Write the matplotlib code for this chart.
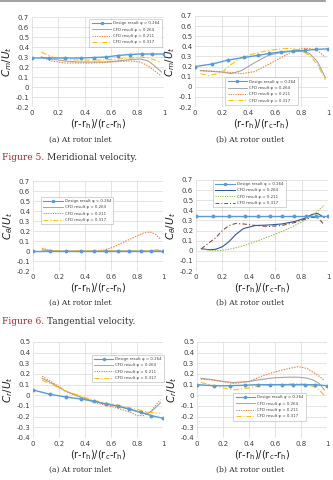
import matplotlib
matplotlib.use("Agg")
import matplotlib.pyplot as plt
from matplotlib.lines import Line2D

W, H = 333, 480

# design points (same radial stations in every panel)
x_des = [0, 0.13, 0.25, 0.37, 0.47, 0.56, 0.65, 0.74, 0.83, 0.91, 1.0]

# Figure 5 - meridional velocity
cm_in_des = [0.29, 0.29, 0.29, 0.29, 0.295, 0.30, 0.315, 0.325, 0.33, 0.33, 0.33]
cm_in_x = [0.07, 0.15, 0.25, 0.35, 0.45, 0.55, 0.65, 0.75, 0.82, 0.88, 0.93, 0.98]
cm_in_264 = [0.30, 0.28, 0.26, 0.25, 0.25, 0.25, 0.26, 0.275, 0.28, 0.26, 0.21, 0.15]
cm_in_211 = [0.30, 0.26, 0.24, 0.24, 0.24, 0.245, 0.255, 0.26, 0.25, 0.21, 0.16, 0.11]
cm_in_317 = [0.35, 0.30, 0.28, 0.27, 0.27, 0.27, 0.28, 0.29, 0.30, 0.29, 0.27, 0.24]

cm_out_x = [0.04, 0.1, 0.2, 0.27, 0.35, 0.45, 0.55, 0.65, 0.72, 0.8, 0.86, 0.92, 0.98]
cm_out_des = [0.20, 0.225, 0.265, 0.29, 0.31, 0.33, 0.345, 0.355, 0.36, 0.37, 0.375]
cm_out_264 = [0.16, 0.155, 0.145, 0.13, 0.16, 0.24, 0.31, 0.34, 0.35, 0.35, 0.33, 0.25, 0.09]
cm_out_211 = [0.16, 0.155, 0.15, 0.14, 0.13, 0.15, 0.22, 0.29, 0.34, 0.38, 0.38, 0.36, 0.29]
cm_out_317 = [0.13, 0.11, 0.14, 0.22, 0.29, 0.33, 0.36, 0.375, 0.38, 0.36, 0.31, 0.22, 0.07]

# Figure 6 - tangential velocity
ct_in_x = [0.07, 0.15, 0.25, 0.35, 0.45, 0.55, 0.62, 0.7, 0.78, 0.85, 0.9, 0.94, 0.98]
ct_in_des = [0, 0, 0, 0, 0, 0, 0, 0, 0, 0, 0]
ct_in_264 = [0.01, 0, -0.003, -0.003, -0.003, 0, 0, 0, 0, 0, 0, 0.002, 0.005]
ct_in_211 = [0.025, 0.003, 0, 0, 0, 0.01, 0.04, 0.09, 0.14, 0.18, 0.19, 0.17, 0.12]
ct_in_317 = [0.02, 0.003, 0, 0, 0, 0, 0, 0, 0, 0, 0.005, 0.01, 0.015]

ct_out_x = [0.04, 0.1, 0.15, 0.2, 0.25, 0.3, 0.36, 0.45, 0.55, 0.65, 0.75, 0.82, 0.88, 0.92, 0.97]
ct_out_des = [0.34, 0.34, 0.34, 0.34, 0.34, 0.34, 0.34, 0.34, 0.34, 0.34, 0.34]
ct_out_264 = [0.02, 0.01, 0.015, 0.04, 0.09, 0.16, 0.22, 0.25, 0.255, 0.265, 0.29, 0.32, 0.36, 0.37, 0.33]
ct_out_211 = [0.02, 0.005, 0.0, 0.005, 0.015, 0.03, 0.05, 0.09, 0.14, 0.19, 0.25, 0.30, 0.35, 0.39, 0.45]
ct_out_317 = [0.02, 0.08, 0.13, 0.2, 0.25, 0.27, 0.265, 0.25, 0.24, 0.25, 0.28, 0.31, 0.33, 0.33, 0.26]

# radial velocity panels (bottom row)
cr_in_x = [0.07, 0.15, 0.25, 0.35, 0.45, 0.55, 0.65, 0.75, 0.8, 0.85, 0.9, 0.94, 0.98]
cr_in_des = [0.05, 0.01, -0.015, -0.035, -0.055, -0.08, -0.10, -0.13, -0.16, -0.19, -0.215]
cr_in_264 = [0.16, 0.11, 0.04, -0.01, -0.05, -0.08, -0.10, -0.13, -0.15, -0.17, -0.16, -0.12, -0.07]
cr_in_211 = [0.18, 0.12, 0.04, -0.01, -0.06, -0.09, -0.12, -0.16, -0.19, -0.19, -0.16, -0.10, -0.04]
cr_in_317 = [0.14, 0.10, 0.04, 0.0, -0.04, -0.07, -0.09, -0.12, -0.13, -0.15, -0.16, -0.165, -0.17]

cr_out_x = [0.03, 0.1, 0.2, 0.28, 0.4, 0.5, 0.6, 0.7, 0.78, 0.85, 0.9, 0.94, 0.98]
cr_out_des = [0.10, 0.09, 0.09, 0.095, 0.10, 0.10, 0.10, 0.10, 0.10, 0.10, 0.09]
cr_out_264 = [0.16, 0.15, 0.13, 0.12, 0.13, 0.15, 0.165, 0.17, 0.17, 0.16, 0.14, 0.11, 0.05]
cr_out_211 = [0.15, 0.145, 0.13, 0.11, 0.13, 0.18, 0.22, 0.25, 0.27, 0.25, 0.21, 0.18, 0.14]
cr_out_317 = [0.12, 0.10, 0.07, 0.05, 0.07, 0.09, 0.10, 0.105, 0.11, 0.10, 0.08, 0.05, 0.0]

labels = ["Design result \u03c6 = 0.264", "CFD result \u03c6 = 0.264",
          "CFD result \u03c6 = 0.211", "CFD result \u03c6 = 0.317"]

fig = plt.figure(figsize=(W / 100, H / 100), dpi=100)
fig.patch.set_facecolor("white")

def px_axes(l, t, r, b):
    return fig.add_axes([l / W, 1 - b / H, (r - l) / W, (b - t) / H])

style_std = [("#a5a5a5", "-"), ("#ed7d31", (0, (1.2, 1.2))), ("#ffc000", (0, (5, 2, 1, 2)))]
style_alt = [("#2f5597", "-"), ("#92c050", (0, (1.2, 1.2))), ("#8c4a3a", (0, (4, 2, 1, 2)))]

xlbl = r"(r-r$_\mathregular{h}$)/(r$_\mathregular{c}$-r$_\mathregular{h}$)"

def panel(box, xc, des, c264, c211, c317, ylim, yl, leg_loc, styles):
    ax = px_axes(*box)
    ax.plot(x_des, des, color="#5b9bd5", lw=1.0, marker="o", ms=1.8, zorder=5)
    for ys, (c, ls) in zip([c264, c211, c317], styles):
        ax.plot(xc, ys, color=c, ls=ls, lw=0.8)
    ax.set_xlim(0, 1)
    ax.set_ylim(*ylim)
    n = int(round((ylim[1] - ylim[0]) / 0.1))
    yt = [round(ylim[0] + i * 0.1, 1) for i in range(n + 1)]
    ax.set_yticks(yt)
    ax.set_yticklabels([("%g" % v) if v != 0 else "0" for v in yt])
    ax.set_xticks([0, 0.2, 0.4, 0.6, 0.8, 1])
    ax.set_xticklabels(["0", "0.2", "0.4", "0.6", "0.8", "1"])
    ax.grid(True, color="#d9d9d9", lw=0.5)
    for s in ax.spines.values():
        s.set_visible(False)
    ax.tick_params(length=0, labelsize=5, colors="#404040", pad=2)
    ax.set_ylabel(yl, fontsize=7.5, color="#202020", labelpad=1)
    ax.set_xlabel(xlbl, fontsize=7, color="#202020", labelpad=1)
    handles = [Line2D([], [], color="#5b9bd5", lw=0.8, marker="o", ms=1.5)]
    handles += [Line2D([], [], color=c, ls=ls, lw=0.7) for c, ls in styles]
    leg = ax.legend(handles, labels, loc=leg_loc, fontsize=2.8, handlelength=5,
                    frameon=True, fancybox=False, edgecolor="#a0a0a0",
                    borderpad=0.6, labelspacing=0.6, handletextpad=0.5)
    leg.get_frame().set_linewidth(0.4)
    for t in leg.get_texts():
        t.set_color("#404040")
    return ax

cm_lbl = r"$C_m/U_t$"
ct_lbl = r"$C_\theta/U_t$"
cr_lbl = r"$C_r/U_t$"

panel((32, 17, 164, 107), cm_in_x, cm_in_des, cm_in_264, cm_in_211, cm_in_317,
      (-0.2, 0.7), cm_lbl, "upper right", style_std)
panel((195, 16, 328, 107), cm_out_x, cm_out_des, cm_out_264, cm_out_211, cm_out_317,
      (-0.2, 0.7), cm_lbl, "lower center", style_std)
panel((33, 181, 163, 271), ct_in_x, ct_in_des, ct_in_264, ct_in_211, ct_in_317,
      (-0.2, 0.7), ct_lbl, (0.06, 0.52), style_std)
panel((196, 180, 328, 271), ct_out_x, ct_out_des, ct_out_264, ct_out_211, ct_out_317,
      (-0.2, 0.7), ct_lbl, (0.13, 0.70), style_alt)
panel((33, 342, 163, 438), cr_in_x, cr_in_des, cr_in_264, cr_in_211, cr_in_317,
      (-0.4, 0.5), cr_lbl, (0.45, 0.58), style_std)
panel((197, 342, 327, 438), cr_out_x, cr_out_des, cr_out_264, cr_out_211, cr_out_317,
      (-0.4, 0.5), cr_lbl, (0.28, 0.18), style_std)

# sub captions
cap = dict(fontsize=5.5, family="DejaVu Serif", color="#303030", ha="center", va="center")
for y in (140, 303, 470):
    fig.text(80 / W, 1 - y / H, "(a) At rotor inlet", **cap)
    fig.text(250 / W, 1 - y / H, "(b) At rotor outlet", **cap)

def fig_caption(y, num, rest):
    t = fig.text(2 / W, 1 - y / H, "Figure %d." % num, fontsize=6.5, family="DejaVu Serif",
                 color="#a0282d", ha="left", va="center")
    fig.canvas.draw()
    bb = t.get_window_extent()
    fig.text((bb.x1 + 3) / W, 1 - y / H, rest, fontsize=6.5, family="DejaVu Serif",
             color="#303030", ha="left", va="center")

fig_caption(157, 5, "Meridional velocity.")
fig_caption(322, 6, "Tangential velocity.")

# page rule at the very top
fig.add_artist(Line2D([0, 325 / W], [1 - 0.8 / H, 1 - 0.8 / H], color="#909090", lw=1.2))

fig.savefig("out.png", dpi=100)
